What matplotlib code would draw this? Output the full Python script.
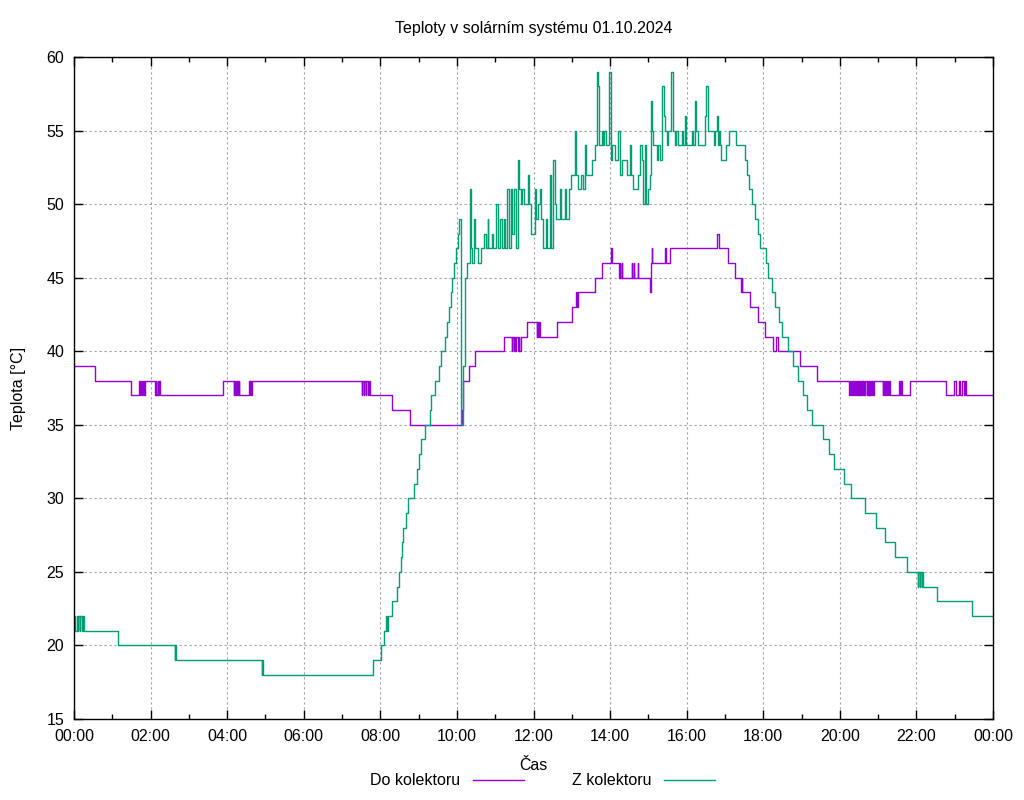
import matplotlib
matplotlib.use("Agg")
import matplotlib.pyplot as plt
from matplotlib.ticker import MultipleLocator

plt.rcParams['font.family'] = ['Liberation Sans', 'DejaVu Sans']

title = "Teploty v solárním systému 01.10.2024"
x_ticks = ["00:00", "02:00", "04:00", "06:00", "08:00", "10:00", "12:00",
           "14:00", "16:00", "18:00", "20:00", "22:00", "00:00"]

# (time, temperature) where the reading changes
do_kolektoru = [
    ("00:00", 39), ("00:33", 38),
    ("01:30", 37), ("01:42", 38), ("01:43", 37), ("01:45", 38), ("01:46", 37), ("01:48", 38), ("01:49", 37), ("01:51", 38),
    ("02:07", 37), ("02:08", 38), ("02:09", 37), ("02:11", 38), ("02:12", 37), ("02:13", 38), ("02:15", 37),
    ("03:53", 38),
    ("04:10", 37), ("04:11", 38), ("04:12", 37), ("04:14", 38), ("04:15", 37), ("04:16", 38), ("04:17", 37), ("04:18", 38), ("04:19", 37),
    ("04:34", 38), ("04:35", 37), ("04:36", 38), ("04:37", 37), ("04:39", 38),
    ("07:31", 37), ("07:32", 38), ("07:34", 37), ("07:35", 38), ("07:37", 37), ("07:38", 38), ("07:40", 37), ("07:42", 38), ("07:44", 37),
    ("08:18", 36), ("08:46", 35), ("10:08", 36), ("10:10", 38), ("10:19", 39), ("10:28", 40),
    ("11:13", 41), ("11:26", 40), ("11:27", 41), ("11:29", 40), ("11:30", 41), ("11:31", 40), ("11:33", 41), ("11:35", 40), ("11:37", 41), ("11:38", 40), ("11:40", 41),
    ("11:50", 42), ("12:05", 41), ("12:06", 42), ("12:07", 41), ("12:09", 42), ("12:10", 41),
    ("12:37", 42), ("13:01", 43), ("13:07", 44), ("13:08", 43), ("13:09", 44),
    ("13:36", 45), ("13:48", 46), ("14:01", 47), ("14:03", 46),
    ("14:14", 45), ("14:15", 46), ("14:16", 45), ("14:18", 46), ("14:19", 45),
    ("14:34", 46), ("14:35", 45), ("14:37", 46), ("14:38", 45), ("14:43", 46), ("14:44", 45),
    ("15:03", 44), ("15:04", 46), ("15:05", 47), ("15:06", 46), ("15:26", 47), ("15:28", 46), ("15:34", 47),
    ("16:48", 48), ("16:50", 47), ("17:05", 46), ("17:16", 45), ("17:25", 44), ("17:26", 45), ("17:27", 44),
    ("17:40", 43), ("17:51", 42), ("18:02", 41), ("18:15", 40), ("18:20", 41), ("18:23", 40), ("18:58", 39), ("19:24", 38),
    ("20:15", 37), ("20:16", 38), ("20:17", 37), ("20:19", 38), ("20:20", 37), ("20:21", 38), ("20:22", 37), ("20:24", 38),
    ("20:26", 37), ("20:27", 38), ("20:28", 37), ("20:29", 38), ("20:30", 37), ("20:31", 38), ("20:32", 37), ("20:33", 38),
    ("20:34", 37), ("20:35", 38), ("20:36", 37), ("20:37", 38), ("20:38", 37), ("20:40", 38), ("20:42", 37), ("20:43", 38),
    ("20:44", 37), ("20:45", 38), ("20:46", 37), ("20:47", 38), ("20:48", 37), ("20:49", 38), ("20:50", 37), ("20:51", 38),
    ("20:52", 37), ("20:53", 38),
    ("21:07", 37), ("21:08", 38), ("21:09", 37), ("21:11", 38), ("21:12", 37), ("21:14", 38), ("21:15", 37), ("21:17", 38), ("21:19", 37),
    ("21:33", 38), ("21:34", 37), ("21:36", 38), ("21:37", 37), ("21:50", 38),
    ("22:47", 37), ("22:59", 38), ("23:02", 37), ("23:06", 38), ("23:09", 37), ("23:12", 38), ("23:14", 37), ("23:16", 38), ("23:18", 37),
    ("24:00", 37),
]

z_kolektoru = [
    ("00:00", 22), ("00:02", 21), ("00:04", 22), ("00:06", 21), ("00:07", 22), ("00:09", 21), ("00:10", 22), ("00:13", 21), ("00:14", 22), ("00:16", 21),
    ("01:09", 20), ("02:38", 19), ("02:39", 20), ("02:40", 19),
    ("04:54", 18), ("04:55", 19), ("04:56", 18),
    ("07:49", 19), ("08:01", 20), ("08:06", 21), ("08:09", 22), ("08:10", 21), ("08:12", 22), ("08:19", 23), ("08:26", 24),
    ("08:29", 25), ("08:32", 26), ("08:34", 27), ("08:36", 28), ("08:40", 29), ("08:44", 30), ("08:52", 31), ("08:58", 32),
    ("09:01", 33), ("09:04", 34), ("09:10", 35), ("09:18", 36), ("09:20", 37), ("09:26", 38), ("09:32", 39), ("09:35", 40),
    ("09:42", 41), ("09:45", 42), ("09:48", 43), ("09:50", 44), ("09:53", 45), ("09:55", 46), ("09:58", 47), ("10:01", 48), ("10:04", 49),
    ("10:07", 35), ("10:10", 39), ("10:13", 45), ("10:16", 46),
    ("10:20", 51), ("10:22", 47), ("10:23", 46), ("10:27", 49), ("10:29", 47), ("10:33", 46), ("10:38", 47), ("10:43", 48), ("10:45", 47),
    ("10:48", 49), ("10:49", 47), ("10:55", 48), ("10:56", 47),
    ("11:02", 50), ("11:05", 47), ("11:07", 49), ("11:10", 47), ("11:14", 49), ("11:15", 47), ("11:19", 51), ("11:22", 47), ("11:25", 51), ("11:27", 48),
    ("11:30", 51), ("11:32", 47), ("11:35", 53), ("11:37", 51), ("11:40", 50), ("11:42", 51), ("11:45", 50), ("11:51", 52),
    ("11:53", 50), ("11:56", 48),
    ("12:02", 51), ("12:04", 49), ("12:07", 50), ("12:10", 51), ("12:12", 49), ("12:15", 47), ("12:20", 49), ("12:21", 47), ("12:26", 52), ("12:28", 47),
    ("12:31", 53), ("12:33", 50), ("12:36", 49), ("12:42", 51), ("12:43", 49), ("12:49", 51), ("12:51", 49), ("12:55", 51), ("12:58", 52),
    ("13:05", 55), ("13:07", 52), ("13:10", 51), ("13:15", 52), ("13:18", 51), ("13:21", 54), ("13:23", 52), ("13:31", 53),
    ("13:36", 54), ("13:39", 59), ("13:41", 58), ("13:42", 54), ("13:47", 55), ("13:49", 54), ("13:51", 55), ("13:53", 54),
    ("13:58", 59),
    ("14:01", 53), ("14:03", 54), ("14:08", 53), ("14:12", 55), ("14:15", 52), ("14:19", 53), ("14:26", 52), ("14:31", 54),
    ("14:33", 52), ("14:36", 51), ("14:44", 52), ("14:47", 54), ("14:50", 53), ("14:52", 50), ("14:55", 54), ("14:57", 50),
    ("15:00", 51), ("15:02", 52), ("15:04", 57), ("15:06", 55), ("15:08", 54), ("15:13", 53), ("15:15", 54), ("15:18", 53),
    ("15:21", 58), ("15:24", 56), ("15:26", 55), ("15:29", 54), ("15:31", 55), ("15:36", 59), ("15:39", 55), ("15:42", 54),
    ("15:44", 55), ("15:47", 54), ("15:53", 55), ("15:55", 54), ("15:57", 56), ("15:59", 54),
    ("16:08", 55), ("16:10", 54), ("16:13", 57), ("16:15", 55), ("16:18", 54), ("16:29", 56), ("16:31", 58), ("16:33", 56),
    ("16:34", 55), ("16:43", 54), ("16:45", 55), ("16:47", 56), ("16:49", 54), ("16:51", 55), ("16:53", 54), ("16:54", 53),
    ("17:01", 54), ("17:06", 55), ("17:18", 54), ("17:31", 53), ("17:34", 52), ("17:38", 51), ("17:42", 50), ("17:47", 49),
    ("17:52", 48), ("17:55", 47),
    ("18:04", 46), ("18:07", 45), ("18:14", 44), ("18:18", 43), ("18:25", 42), ("18:30", 41), ("18:38", 40), ("18:47", 39), ("18:55", 38),
    ("19:02", 37), ("19:09", 36), ("19:16", 35), ("19:34", 34), ("19:43", 33), ("19:51", 32),
    ("20:07", 31), ("20:17", 30), ("20:39", 29), ("20:57", 28), ("21:11", 27), ("21:27", 26), ("21:45", 25),
    ("22:02", 24), ("22:03", 25), ("22:05", 24), ("22:06", 25), ("22:08", 24), ("22:09", 25), ("22:11", 24),
    ("22:33", 23), ("23:27", 22), ("24:00", 22),
]


def minutes(s):
    h, m = s.split(":")
    return int(h) * 60 + int(m)


fig = plt.figure(figsize=(10.24, 8), dpi=100)
ax = fig.add_axes([74 / 1024, 81 / 800, 919 / 1024, 662 / 800])

for data, color, label in [(do_kolektoru, "#9400d3", "Do kolektoru"),
                           (z_kolektoru, "#009e73", "Z kolektoru")]:
    t = [minutes(a) for a, b in data]
    v = [b for a, b in data]
    ax.step(t, v, where="post", color=color, lw=1.0, label=label)

ax.set_xlim(0, 1440)
ax.set_ylim(15, 60)
ax.set_xticks(range(0, 1441, 120))
ax.set_xticklabels(x_ticks)
ax.xaxis.set_minor_locator(MultipleLocator(60))
ax.yaxis.set_major_locator(MultipleLocator(5))

ax.grid(True, which="major", color="#a0a0a0", linestyle=(0, (2, 2.5)), lw=0.8)
ax.tick_params(which="both", direction="in", top=True, right=True, labelsize=11.5, pad=7)
ax.tick_params(which="major", length=6.5, width=1)
ax.tick_params(which="minor", length=3.5, width=1)
for s in ax.spines.values():
    s.set_linewidth(1.0)

ax.set_title(title, fontsize=11.5, pad=17)
ax.set_xlabel("Čas", fontsize=11.5, labelpad=10)
ax.set_ylabel("Teplota [°C]", fontsize=11.5, labelpad=15)

fig.legend(loc="center", bbox_to_anchor=(0.53, 0.024), ncol=2, frameon=False,
           markerfirst=False, handlelength=3.2, handletextpad=0.8,
           columnspacing=3.0, fontsize=11.5)

fig.savefig("out.png", dpi=100)
